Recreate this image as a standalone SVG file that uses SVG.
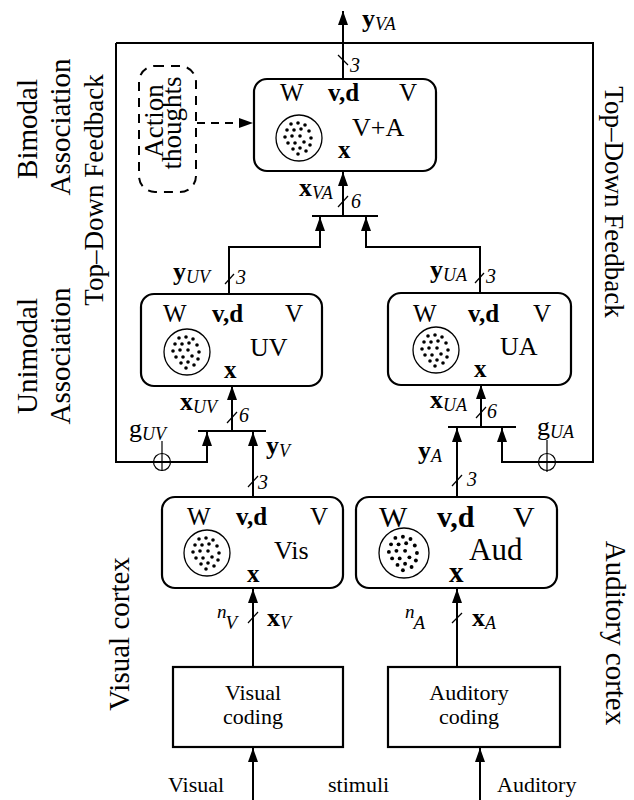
<svg xmlns="http://www.w3.org/2000/svg" width="634" height="800" viewBox="0 0 634 800">
<style>
text{font-family:"Liberation Serif","Times New Roman",serif;fill:#000}
.b{font-weight:bold}
.i{font-style:italic}
.box{fill:#fff;stroke:#000;stroke-width:2.2}
.ln{fill:none;stroke:#000;stroke-width:2}
.sl{fill:none;stroke:#000;stroke-width:1.2}
.cir{fill:#fff;stroke:#000;stroke-width:1.3}
.m{font-size:25px}
.lab{font-size:26px}
.sub{font-size:18px;font-style:italic;font-weight:normal}
.n3{font-size:20px;font-style:italic}
.side{font-size:29px}
.fb{font-size:27px}
.cod{font-size:22px}
</style>
<defs>
<marker id="ah" markerUnits="userSpaceOnUse" markerWidth="15" markerHeight="10" refX="14" refY="5" orient="auto">
<path d="M0,0 L14,5 L0,10 z" fill="#000"/>
</marker>
<g id="dots">
<circle cx="-8" cy="-14" r="1.8"/><circle cx="-1" cy="-15" r="1.8"/><circle cx="6" cy="-13" r="1.8"/>
<circle cx="-12" cy="-8" r="1.8"/><circle cx="-5" cy="-8" r="1.8"/><circle cx="2" cy="-9" r="1.8"/><circle cx="10" cy="-7" r="1.8"/>
<circle cx="-14" cy="-1" r="1.8"/><circle cx="-7" cy="-2" r="1.8"/><circle cx="1" cy="-2" r="1.8"/><circle cx="12" cy="0" r="1.8"/>
<circle cx="-11" cy="5" r="1.8"/><circle cx="-4" cy="5" r="1.8"/><circle cx="5" cy="4" r="1.8"/><circle cx="11" cy="7" r="1.8"/>
<circle cx="-6" cy="11" r="1.8"/><circle cx="1" cy="10" r="1.8"/><circle cx="7" cy="13" r="1.8"/><circle cx="-1" cy="16" r="1.8"/>
</g>
</defs>

<!-- side labels -->
<g id="labels">
<text class="side" text-anchor="middle" transform="translate(37,129) rotate(-90)">Bimodal</text>
<text class="side" text-anchor="middle" transform="translate(70,127) rotate(-90)">Association</text>
<text class="fb" text-anchor="middle" transform="translate(103,190) rotate(-90)">Top–Down Feedback</text>
<text class="side" text-anchor="middle" transform="translate(37,356) rotate(-90)">Unimodal</text>
<text class="side" text-anchor="middle" transform="translate(70,356) rotate(-90)">Association</text>
<text class="fb" text-anchor="middle" transform="translate(605,202) rotate(90)">Top–Down Feedback</text>
<text class="side" text-anchor="middle" transform="translate(129,634) rotate(-90)">Visual cortex</text>
<text class="side" text-anchor="middle" transform="translate(606,633) rotate(90)">Auditory cortex</text>
<text x="168" y="792" style="font-size:22px">Visual</text>
<text x="328" y="792" style="font-size:22px">stimuli</text>
<text x="497" y="792" style="font-size:22px">Auditory</text>
</g>

<!-- connectors -->
<g id="connectors">
<path class="ln" d="M343,79 V11" marker-end="url(#ah)"/>
<path class="ln" d="M116,43 H593 V462 H502 V428" marker-end="url(#ah)"/>
<path class="ln" d="M116,43 V462 H207 V432" marker-end="url(#ah)"/>
<path class="ln" d="M197,123 H253" stroke-dasharray="8,6" marker-end="url(#ah)"/>
<path class="ln" d="M312,216 H378"/>
<path class="ln" d="M343,216 V172" marker-end="url(#ah)"/>
<path class="ln" d="M229,294 V247 H320 V217" marker-end="url(#ah)"/>
<path class="ln" d="M480,294 V247 H366 V217" marker-end="url(#ah)"/>
<path class="ln" d="M198,431 H266"/>
<path class="ln" d="M232,431 V386" marker-end="url(#ah)"/>
<path class="ln" d="M253,497 V432" marker-end="url(#ah)"/>
<path class="ln" d="M448,427 H516"/>
<path class="ln" d="M481,427 V385" marker-end="url(#ah)"/>
<path class="ln" d="M457,497 V428" marker-end="url(#ah)"/>
<path class="ln" d="M253,667 V589" marker-end="url(#ah)"/>
<path class="ln" d="M457,667 V589" marker-end="url(#ah)"/>
<path class="ln" d="M253,800 V748" marker-end="url(#ah)"/>
<path class="ln" d="M480,800 V748" marker-end="url(#ah)"/>
<!-- bus slashes -->
<path class="sl" d="M338,55 L348,65"/>
<path class="sl" d="M338,207 L348,196"/>
<path class="sl" d="M225,284 L234,274"/>
<path class="sl" d="M475,283 L484,273"/>
<path class="sl" d="M227,423 L237,412"/>
<path class="sl" d="M476,418 L486,407"/>
<path class="sl" d="M248,487 L258,476"/>
<path class="sl" d="M452,486 L462,475"/>
<path class="sl" d="M248,623 L258,612"/>
<path class="sl" d="M452,623 L462,613"/>
<!-- summing junctions -->
<circle class="sl" cx="162" cy="462" r="8.5" fill="none"/>
<path class="sl" d="M162,441 V471"/>
<circle class="sl" cx="547" cy="462" r="8.5" fill="none"/>
<path class="sl" d="M547,440 V472"/>
<!-- connector labels -->
<text class="lab b" x="362" y="27">y<tspan class="sub" dy="3">VA</tspan></text>
<text class="n3" x="350" y="72">3</text>
<text class="lab b" x="299" y="196">x<tspan class="sub" dy="3">VA</tspan></text>
<text class="n3" x="351" y="208">6</text>
<text class="lab b" x="173" y="280">y<tspan class="sub" dy="3">UV</tspan></text>
<text class="n3" x="236" y="284">3</text>
<text class="lab b" x="430" y="278">y<tspan class="sub" dy="3">UA</tspan></text>
<text class="n3" x="486" y="283">3</text>
<text class="lab b" x="180" y="410">x<tspan class="sub" dy="3">UV</tspan></text>
<text class="n3" x="239" y="422">6</text>
<text class="lab b" x="430" y="408">x<tspan class="sub" dy="3">UA</tspan></text>
<text class="n3" x="487" y="418">6</text>
<text class="lab" x="129" y="437">g<tspan class="sub" dy="3">UV</tspan></text>
<text class="lab" x="537" y="435">g<tspan class="sub" dy="3">UA</tspan></text>
<text class="lab b" x="266" y="454">y<tspan class="sub" dy="3">V</tspan></text>
<text class="lab b" x="418" y="459">y<tspan class="sub" dy="3">A</tspan></text>
<text class="n3" x="258" y="489">3</text>
<text class="n3" x="467" y="486">3</text>
<text class="i" x="217" y="618" style="font-size:19px">n<tspan dx="-1" dy="11">V</tspan></text>
<text class="lab b" x="267" y="626">x<tspan class="sub" dy="3">V</tspan></text>
<text class="i" x="405" y="618" style="font-size:19px">n<tspan dx="-1" dy="11">A</tspan></text>
<text class="lab b" x="472" y="626">x<tspan class="sub" dy="3">A</tspan></text>
</g>

<!-- nodes -->
<g id="action-thoughts">
<rect x="139" y="66" width="57" height="126" rx="16" fill="none" stroke="#000" stroke-width="2" stroke-dasharray="9,7"/>
<text text-anchor="middle" transform="translate(163,121) rotate(-90)" style="font-size:27px">Action</text>
<text text-anchor="middle" transform="translate(181,123) rotate(-90)" style="font-size:27px">thoughts</text>
</g>

<g id="node-VA">
<rect class="box" x="254" y="79" width="182" height="92" rx="13"/>
<text class="m" x="280" y="101">W</text>
<text class="m b" x="328" y="101">v,d</text>
<text class="m" x="399" y="101">V</text>
<circle class="cir" cx="299" cy="138" r="23"/>
<use href="#dots" x="299" y="138"/>
<text class="lab" x="352" y="136">V+A</text>
<text class="m b" x="338" y="158">x</text>
</g>

<g id="node-UV">
<rect class="box" x="141" y="294" width="181" height="92" rx="13"/>
<text class="m" x="163" y="322">W</text>
<text class="m b" x="212" y="322">v,d</text>
<text class="m" x="285" y="322">V</text>
<circle class="cir" cx="187" cy="352" r="23"/>
<use href="#dots" x="187" y="352"/>
<text class="lab" x="250" y="356">UV</text>
<text class="m b" x="224" y="378">x</text>
</g>

<g id="node-UA">
<rect class="box" x="388" y="293" width="183" height="92" rx="13"/>
<text class="m" x="413" y="322">W</text>
<text class="m b" x="468" y="322">v,d</text>
<text class="m" x="533" y="322">V</text>
<circle class="cir" cx="436" cy="350" r="23"/>
<use href="#dots" x="436" y="350"/>
<text class="lab" x="500" y="355">UA</text>
<text class="m b" x="474" y="377">x</text>
</g>

<g id="node-Vis">
<rect class="box" x="162" y="497" width="181" height="91" rx="13"/>
<text class="m" x="187" y="525">W</text>
<text class="m b" x="236" y="525">v,d</text>
<text class="m" x="310" y="525">V</text>
<circle class="cir" cx="207" cy="553" r="23"/>
<use href="#dots" x="207" y="553"/>
<text class="lab" x="274" y="559">Vis</text>
<text class="m b" x="247" y="582">x</text>
</g>

<g id="node-Aud">
<rect class="box" x="356" y="497" width="201" height="91" rx="13"/>
<text x="379" y="527" style="font-size:30px">W</text>
<text class="b" x="437" y="527" style="font-size:30px">v,d</text>
<text x="513" y="527" style="font-size:30px">V</text>
<circle class="cir" cx="404" cy="553" r="25"/>
<use href="#dots" transform="translate(404,553) scale(1.08)"/>
<text x="469" y="560" style="font-size:31px">Aud</text>
<text class="b" x="449" y="582" style="font-size:29px">x</text>
</g>

<g id="node-visual-coding">
<rect class="box" x="173" y="667" width="170" height="80"/>
<text class="cod" x="253" y="700" text-anchor="middle">Visual</text>
<text class="cod" x="253" y="724" text-anchor="middle">coding</text>
</g>

<g id="node-auditory-coding">
<rect class="box" x="388" y="667" width="172" height="80"/>
<text class="cod" x="469" y="700" text-anchor="middle">Auditory</text>
<text class="cod" x="469" y="724" text-anchor="middle">coding</text>
</g>
</svg>
